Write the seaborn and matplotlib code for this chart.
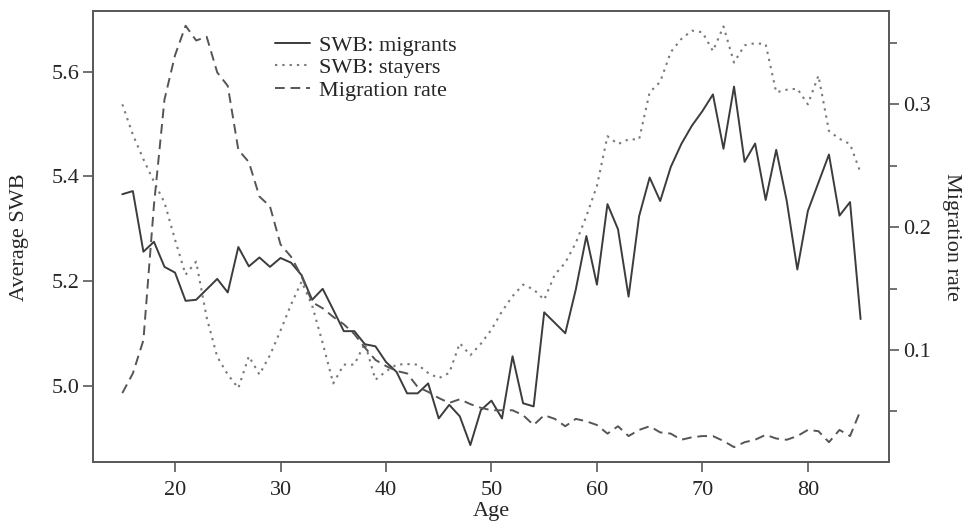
import numpy as np
import pandas as pd
import matplotlib
matplotlib.use("Agg")
import matplotlib.pyplot as plt
from matplotlib.lines import Line2D
from matplotlib.ticker import MultipleLocator
import seaborn as sns

# ---- data ----
ages = list(range(15, 86))

swb_migrants = [5.366, 5.372, 5.256, 5.275, 5.227, 5.216, 5.162, 5.164, 5.184, 5.204,
                5.178, 5.265, 5.228, 5.245, 5.227, 5.244, 5.235, 5.211, 5.164, 5.185,
                5.145, 5.104, 5.104, 5.079, 5.075, 5.045, 5.026, 4.985, 4.985, 5.004,
                4.937, 4.963, 4.941, 4.886, 4.953, 4.971, 4.937, 5.056, 4.966, 4.960,
                5.140, 5.120, 5.100, 5.184, 5.286, 5.193, 5.347, 5.299, 5.170, 5.324,
                5.398, 5.353, 5.418, 5.462, 5.497, 5.525, 5.557, 5.453, 5.572, 5.428,
                5.463, 5.355, 5.451, 5.353, 5.222, 5.334, 5.388, 5.442, 5.325, 5.351,
                5.127]

swb_stayers = [5.538, 5.480, 5.433, 5.390, 5.350, 5.279, 5.212, 5.237, 5.130, 5.055,
               5.021, 4.995, 5.056, 5.021, 5.058, 5.105, 5.155, 5.199, 5.153, 5.081,
               5.004, 5.040, 5.040, 5.081, 5.011, 5.027, 5.040, 5.041, 5.040, 5.024,
               5.014, 5.024, 5.081, 5.058, 5.080, 5.107, 5.142, 5.171, 5.193, 5.184,
               5.164, 5.212, 5.235, 5.273, 5.324, 5.382, 5.477, 5.462, 5.471, 5.471,
               5.561, 5.581, 5.638, 5.663, 5.679, 5.676, 5.640, 5.687, 5.618, 5.651,
               5.655, 5.653, 5.561, 5.566, 5.568, 5.538, 5.593, 5.487, 5.472, 5.462,
               5.407]

migration_rate = [0.065, 0.081, 0.108, 0.218, 0.304, 0.340, 0.364, 0.352, 0.355, 0.326,
                  0.315, 0.263, 0.253, 0.225, 0.217, 0.186, 0.176, 0.160, 0.139, 0.134,
                  0.127, 0.121, 0.113, 0.102, 0.092, 0.087, 0.083, 0.081, 0.070, 0.066,
                  0.061, 0.057, 0.060, 0.056, 0.053, 0.051, 0.051, 0.051, 0.047, 0.039,
                  0.047, 0.044, 0.038, 0.044, 0.042, 0.039, 0.032, 0.038, 0.030, 0.035,
                  0.038, 0.033, 0.032, 0.027, 0.029, 0.030, 0.030, 0.026, 0.021, 0.025,
                  0.027, 0.031, 0.028, 0.027, 0.030, 0.035, 0.034, 0.025, 0.035, 0.030,
                  0.051]

df = pd.DataFrame({"Age": ages, "migrants": swb_migrants,
                   "stayers": swb_stayers, "rate": migration_rate})

# ---- style ----
sns.set_style("ticks")
plt.rcParams['font.family'] = ['Liberation Serif', 'DejaVu Serif']
plt.rcParams['font.size'] = 16

frame_col = '#5a5a5a'
c_mig = '#3c3c3c'
c_stay = '#7a7a7a'
c_rate = '#555555'
dot_style = (0, (1.1, 2.4))
dash_style = (0, (5, 3))

fig = plt.figure(figsize=(9.77, 5.24), dpi=100)
ax = fig.add_axes([0.0955, 0.1174, 0.8145, 0.8616])
ax2 = ax.twinx()

sns.lineplot(data=df, x="Age", y="migrants", ax=ax, color=c_mig, linewidth=1.4)
sns.lineplot(data=df, x="Age", y="stayers", ax=ax, color=c_stay, linewidth=1.5,
             linestyle=dot_style)
sns.lineplot(data=df, x="Age", y="rate", ax=ax2, color=c_rate, linewidth=1.4,
             linestyle=dash_style)

ax.set_xlim(12.25, 87.7)
ax.set_ylim(4.8527, 5.7166)
ax2.set_ylim(0.0085, 0.376)

ax.set_xticks([20, 30, 40, 50, 60, 70, 80])
ax.set_yticks([5.0, 5.2, 5.4, 5.6])
ax.set_yticklabels(['5.0', '5.2', '5.4', '5.6'])
ax2.yaxis.set_minor_locator(MultipleLocator(0.05))
ax2.set_yticks([0.1, 0.2, 0.3])
ax2.set_yticklabels(['0.1', '0.2', '0.3'])

ax.set_xlabel("Age", labelpad=2)
ax.set_ylabel("Average SWB", labelpad=16)
ax2.set_ylabel("Migration rate", rotation=270, labelpad=22)

for a in (ax, ax2):
    for sp in a.spines.values():
        sp.set_visible(True)
        sp.set_color(frame_col)
        sp.set_linewidth(1.3)
    a.tick_params(axis='both', which='both', length=7, width=1.2, color=frame_col,
                  labelsize=16, pad=3)
ax.tick_params(axis='x', pad=6)
ax2.tick_params(axis='y', which='minor', length=6)

handles = [Line2D([], [], color=c_mig, linewidth=1.4),
           Line2D([], [], color=c_stay, linewidth=1.5, linestyle=dot_style),
           Line2D([], [], color=c_rate, linewidth=1.4, linestyle=dash_style)]
ax.legend(handles, ["SWB: migrants", "SWB: stayers", "Migration rate"],
          loc='upper left', bbox_to_anchor=(0.228, 0.946), frameon=False,
          handlelength=1.6, handletextpad=0.4, labelspacing=0.08, borderpad=0,
          borderaxespad=0, fontsize=16)

fig.savefig("out.png", dpi=100)
